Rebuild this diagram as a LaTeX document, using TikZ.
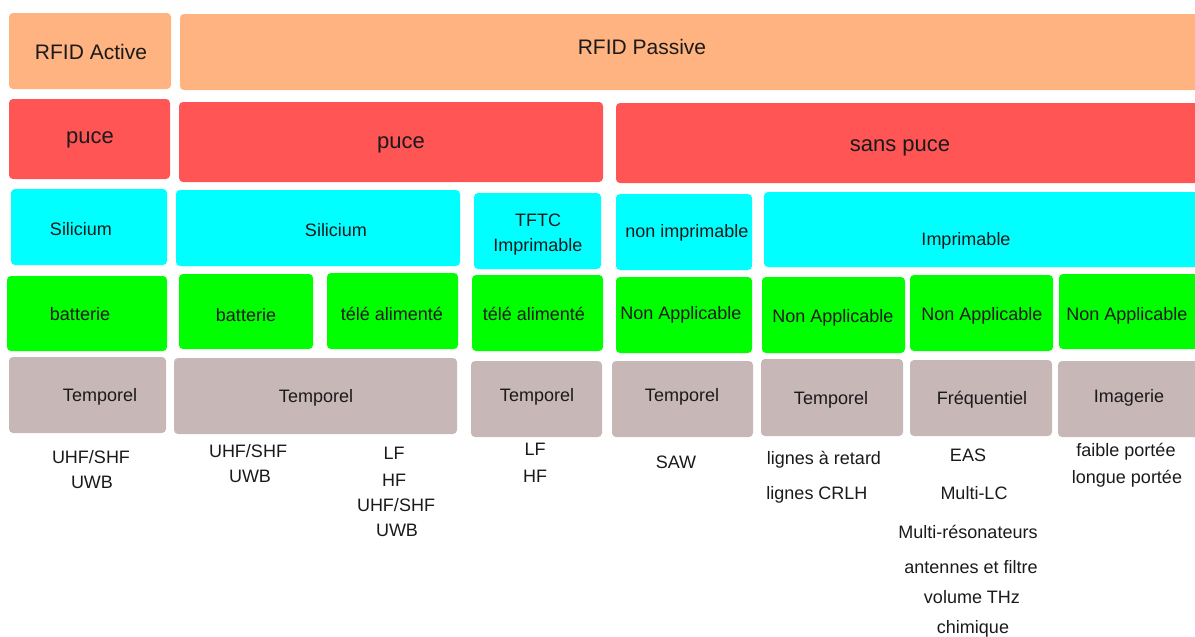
\documentclass[tikz,border=0pt]{standalone}
\usepackage{fontspec}
\setmainfont{Liberation Sans}
\definecolor{cOrange}{HTML}{FFB380}
\definecolor{cRed}{HTML}{FF5555}
\definecolor{cCyan}{HTML}{00FFFF}
\definecolor{cGreen}{HTML}{00FF00}
\definecolor{cGrey}{HTML}{C8B7B7}
\definecolor{cText}{HTML}{1A1A1A}
\newcommand\mybox[6]{%
  \node[boxsty,fill=#2,minimum width={(#5-#3)*1pt},minimum height={(#6-#4)*1pt}]
    (#1) at ({(#3+#5)/2},{(#4+#6)/2}) {};}
\tikzset{
  boxsty/.style={rectangle,rounded corners=4pt,draw=none,inner sep=0pt,outer sep=0pt},
  lbl/.style={inner sep=0pt,anchor=base,text=cText,font=\fontsize{18}{22}\selectfont},
  lblbig/.style={lbl,font=\fontsize{21}{25}\selectfont},
  lblhuge/.style={lbl,font=\fontsize{22}{26}\selectfont},
}
\begin{document}
\begin{tikzpicture}[x=1pt,y=-1pt]
\useasboundingbox (0,0) rectangle (1195,637);
\clip (0,0) rectangle (1195,637);
% row 1
\mybox{A1}{cOrange}{9}{13}{171}{89}
\mybox{A2}{cOrange}{180}{14}{1210}{90}
% row 2
\mybox{R1}{cRed}{9}{99}{170}{179}
\mybox{R2}{cRed}{179}{102}{603}{182}
\mybox{R3}{cRed}{616}{103}{1210}{183}
% row 3
\mybox{C1}{cCyan}{11}{189}{167}{265}
\mybox{C2}{cCyan}{176}{190}{460}{266}
\mybox{C3}{cCyan}{474}{193}{601}{269}
\mybox{C4}{cCyan}{616}{194}{752}{270}
\mybox{C5}{cCyan}{764}{192}{1210}{267}
% row 4
\mybox{G1}{cGreen}{7}{276}{167}{351}
\mybox{G2}{cGreen}{179}{274}{313}{349}
\mybox{G3}{cGreen}{327}{273}{458}{349}
\mybox{G4}{cGreen}{472}{275}{603}{351}
\mybox{G5}{cGreen}{616}{277}{752}{353}
\mybox{G6}{cGreen}{762}{277}{905}{353}
\mybox{G7}{cGreen}{910}{275}{1053}{351}
\mybox{G8}{cGreen}{1059}{274}{1210}{349}
% row 5
\mybox{T1}{cGrey}{9}{357}{166}{433}
\mybox{T2}{cGrey}{174}{358}{457}{434}
\mybox{T3}{cGrey}{471}{361}{602}{437}
\mybox{T4}{cGrey}{612}{361}{753}{437}
\mybox{T5}{cGrey}{761}{359}{903}{436}
\mybox{T6}{cGrey}{910}{360}{1052}{436}
\mybox{T7}{cGrey}{1058}{361}{1210}{437}
% labels in boxes (positions are baselines)
\node[lblbig] (tA1) at (91,59) {RFID Active};
\node[lblbig] (tA2) at (642,54) {RFID Passive};
\node[lblhuge] (tR1) at (90,143) {puce};
\node[lblhuge] (tR2) at (401,148) {puce};
\node[lblhuge] (tR3) at (900,151) {sans puce};
\node[lbl] (tC1) at (81,235) {Silicium};
\node[lbl] (tC2) at (336,236) {Silicium};
\node[lbl] (tC3a) at (538,226) {TFTC};
\node[lbl] (tC3b) at (538,251) {Imprimable};
\node[lbl] (tC4) at (687,237) {non imprimable};
\node[lbl] (tC5) at (966,245) {Imprimable};
\node[lbl] (tG1) at (80,320) {batterie};
\node[lbl] (tG2) at (246,321) {batterie};
\node[lbl] (tG3) at (392,320) {télé alimenté};
\node[lbl] (tG4) at (534,320) {télé alimenté};
\node[lbl] (tG5) at (681,319) {Non Applicable};
\node[lbl] (tG6) at (833,322) {Non Applicable};
\node[lbl] (tG7) at (982,320) {Non Applicable};
\node[lbl] (tG8) at (1127,320) {Non Applicable};
\node[lbl] (tT1) at (100,401) {Temporel};
\node[lbl] (tT2) at (316,402) {Temporel};
\node[lbl] (tT3) at (537,401) {Temporel};
\node[lbl] (tT4) at (682,401) {Temporel};
\node[lbl] (tT5) at (831,404) {Temporel};
\node[lbl] (tT6) at (982,404) {Fréquentiel};
\node[lbl] (tT7) at (1129,402) {Imagerie};
% lists below
\node[lbl] (b1a) at (91,463) {UHF/SHF};
\node[lbl] (b1b) at (92,488) {UWB};
\node[lbl] (b2a) at (248,457) {UHF/SHF};
\node[lbl] (b2b) at (250,482) {UWB};
\node[lbl] (b3a) at (394,459) {LF};
\node[lbl] (b3b) at (394,486) {HF};
\node[lbl] (b3c) at (396,511) {UHF/SHF};
\node[lbl] (b3d) at (397,536) {UWB};
\node[lbl] (b4a) at (535,455) {LF};
\node[lbl] (b4b) at (535,482) {HF};
\node[lbl] (b5a) at (676,468) {SAW};
\node[lbl] (b6a) at (824,464) {lignes à retard};
\node[lbl] (b6b) at (817,499) {lignes CRLH};
\node[lbl] (b7a) at (968,461) {EAS};
\node[lbl] (b7b) at (974,499) {Multi-LC};
\node[lbl] (b7c) at (968,538) {Multi-résonateurs};
\node[lbl] (b7d) at (971,573) {antennes et filtre};
\node[lbl] (b7e) at (972,603) {volume THz};
\node[lbl] (b7f) at (973,633) {chimique};
\node[lbl] (b8a) at (1126,456) {faible portée};
\node[lbl] (b8b) at (1127,483) {longue portée};
\end{tikzpicture}
\end{document}
